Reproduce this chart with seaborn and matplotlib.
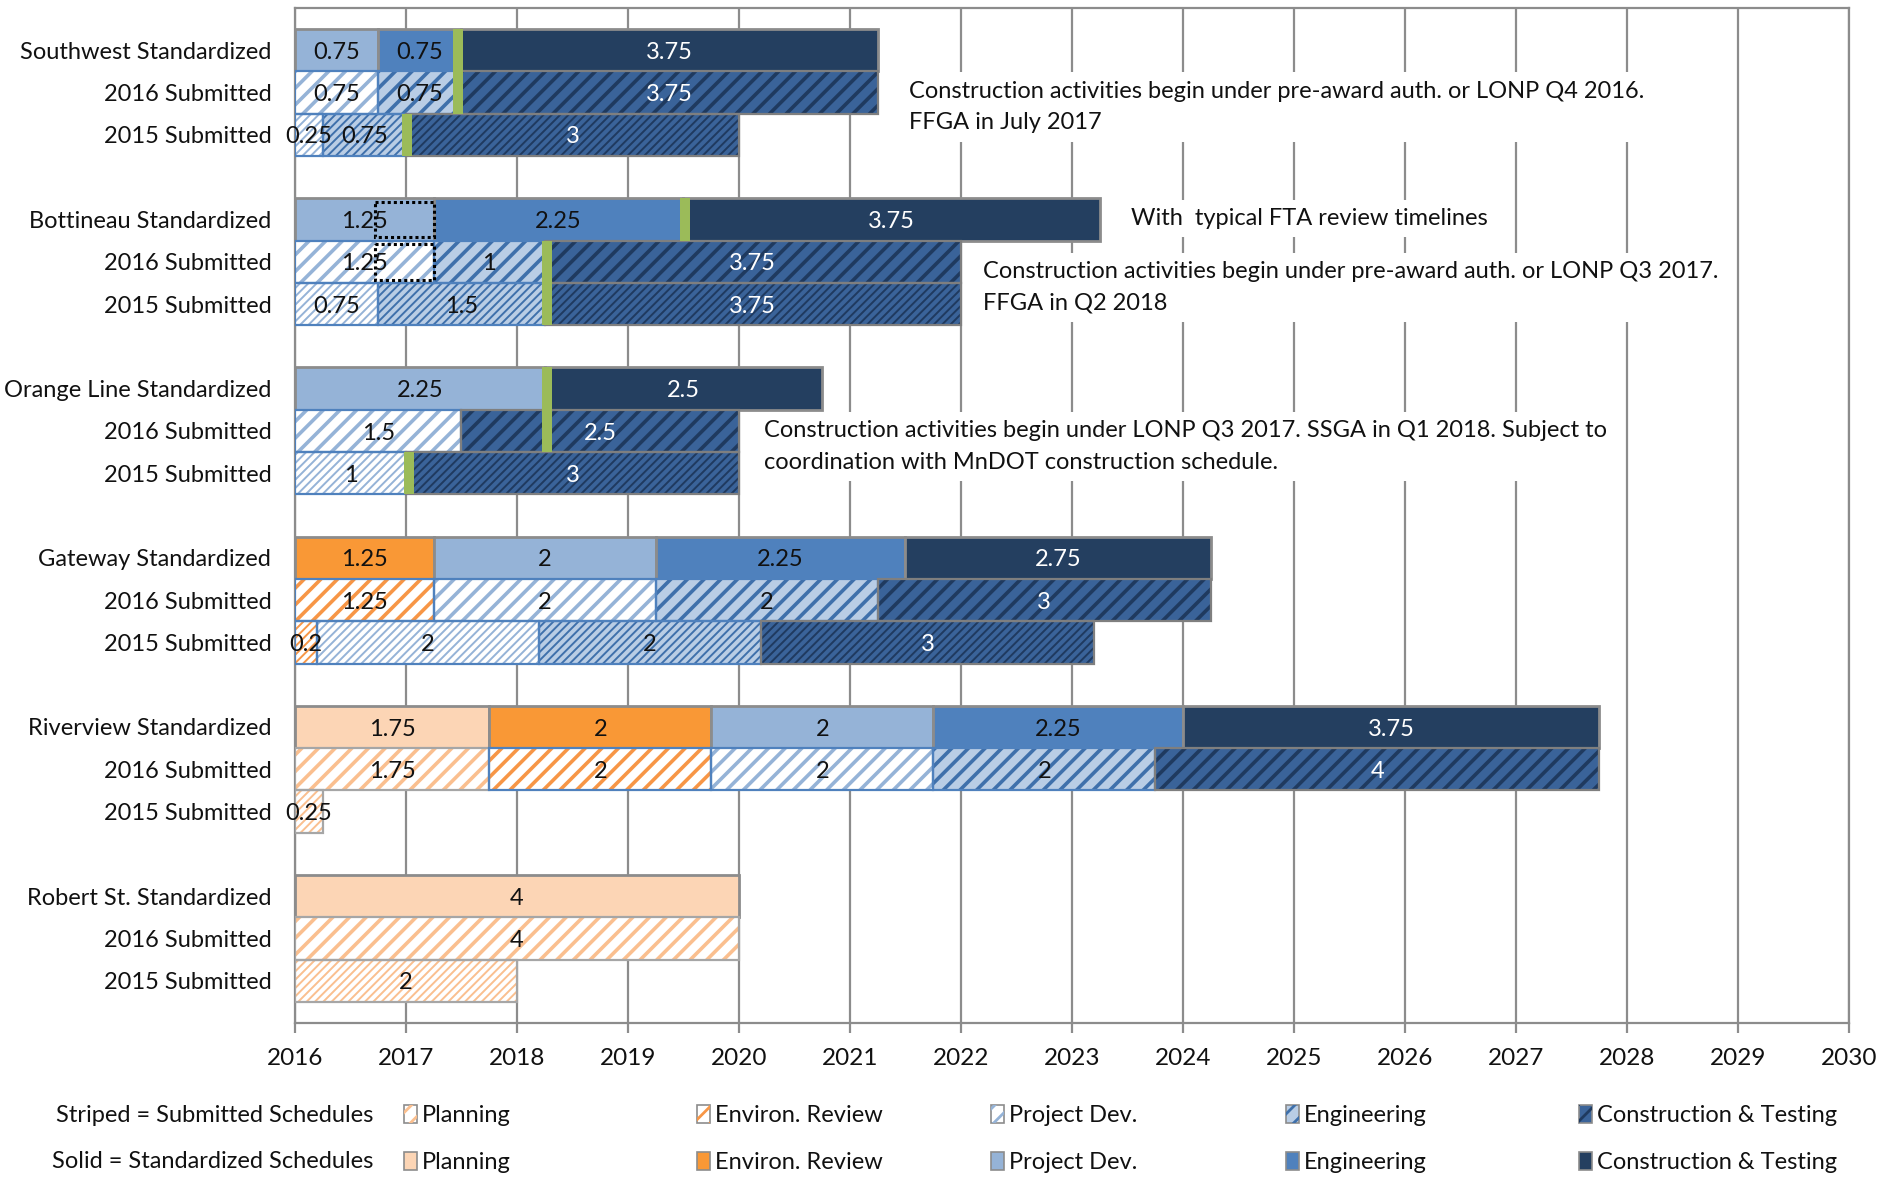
import matplotlib
matplotlib.use("Agg")
import matplotlib.pyplot as plt
import matplotlib.patches as mpatches
from matplotlib.legend_handler import HandlerTuple
import seaborn as sns

# ---------------- data ----------------
row_labels = ["Southwest Standardized", "2016 Submitted", "2015 Submitted",
              "Bottineau Standardized", "2016 Submitted", "2015 Submitted",
              "Orange Line Standardized", "2016 Submitted", "2015 Submitted",
              "Gateway Standardized", "2016 Submitted", "2015 Submitted",
              "Riverview Standardized", "2016 Submitted", "2015 Submitted",
              "Robert St. Standardized", "2016 Submitted", "2015 Submitted"]
row_kind = ["std", "s16", "s15"] * 6
row_pos = [1, 2, 3, 5, 6, 7, 9, 10, 11, 13, 14, 15, 17, 18, 19, 21, 22, 23]

phases = ["Planning", "Environ. Review", "Project Dev.", "Engineering", "Construction & Testing"]
planning     = [0, 0, 0,        0, 0, 0,        0, 0, 0,      0, 0, 0,          1.75, 1.75, 0.25, 4, 4, 2]
environ      = [0, 0, 0,        0, 0, 0,        0, 0, 0,      1.25, 1.25, 0.2,  2, 2, 0,          0, 0, 0]
project_dev  = [0.75, 0.75, 0.25, 1.25, 1.25, 0.75, 2.25, 1.5, 1, 2, 2, 2,       2, 2, 0,          0, 0, 0]
engineering  = [0.75, 0.75, 0.75, 2.25, 1, 1.5,  0, 0, 0,      2.25, 2, 2,       2.25, 2, 0,       0, 0, 0]
construction = [3.75, 3.75, 3,  3.75, 3.75, 3.75, 2.5, 2.5, 3, 2.75, 3, 3,       3.75, 4, 0,       0, 0, 0]
phase_values = [planning, environ, project_dev, engineering, construction]

start_year = 2016
years = list(range(2016, 2031))

# milestone markers (green): year, first row index, last row index
milestone_year = [2017.47, 2017.01, 2019.51, 2018.27, 2018.27, 2017.03]
milestone_first = [0, 2, 3, 4, 6, 8]
milestone_last = [1, 2, 3, 5, 7, 8]

# dotted overlay boxes (Bottineau)
dotted_rows = [3, 4]
dotted_start = 2016.72
dotted_len = 0.53

notes = [
    "Construction activities begin under pre-award auth. or LONP Q4 2016.\nFFGA in July 2017",
    "With  typical FTA review timelines",
    "Construction activities begin under pre-award auth. or LONP Q3 2017.\nFFGA in Q2 2018",
    "Construction activities begin under LONP Q3 2017. SSGA in Q1 2018. Subject to\ncoordination with MnDOT construction schedule.",
]
note_x = [2021.53, 2023.53, 2022.20, 2020.23]
note_y = [2.34, 4.98, 6.60, 10.37]

# ---------------- styles ----------------
solid_colors = ["#fcd5b5", "#f99836", "#95b3d7", "#4f81bd", "#243f60"]
hatch_bg = ["#ffffff", "#ffffff", "#ffffff", "#b9cde5", "#3a6399"]
hatch_fg = ["#fabf8f", "#f79646", "#95b3d7", "#3f70ab", "#1f3a5f"]
hatch_edge = ["#a6a6a6", "#4f81bd", "#4f81bd", "#4f81bd", "#7f7f7f"]
label_colors = ["#111111", "#111111", "#111111", "#111111", "#ffffff"]
GRAY = "#8c8c8c"
GREEN = "#9bbb59"
FS = 17

sns.set_theme(style="white")
plt.rcParams["font.family"] = ["Lato", "DejaVu Sans"]
plt.rcParams["text.color"] = "#111111"
plt.rcParams["hatch.linewidth"] = 2.0

fig = plt.figure(figsize=(18.81, 11.77), dpi=100)
ax = fig.add_axes([0.1568, 0.1308, 0.8262, 0.8624])


def set_hlw(container, lw):
    for p in container:
        if hasattr(p, "set_hatch_linewidth"):
            p.set_hatch_linewidth(lw)


for i, (y, kind) in enumerate(zip(row_pos, row_kind)):
    left = start_year
    for j, vals in enumerate(phase_values):
        v = vals[i]
        if v <= 0:
            continue
        if kind == "std":
            bc = ax.barh(y, v, left=left, height=1.0, color=solid_colors[j],
                         edgecolor=GRAY, linewidth=2.0, zorder=3)
        else:
            hatch = "//" if kind == "s16" else "////"
            hlw = 2.6 if kind == "s16" else 1.4
            bc = ax.barh(y, v, left=left, height=1.0, color=hatch_bg[j],
                         linewidth=0, zorder=3)
            with plt.rc_context({"hatch.linewidth": hlw}):
                hc = ax.barh(y, v, left=left, height=1.0, facecolor="none",
                             edgecolor=hatch_fg[j], linewidth=0, hatch=hatch, zorder=3.1)
            set_hlw(hc, hlw)
            ax.barh(y, v, left=left, height=1.0, fill=False,
                    edgecolor=hatch_edge[j], linewidth=1.6, zorder=3.2)
        anns = ax.bar_label(bc, labels=[f"{v:g}"], label_type="center",
                            color=label_colors[j], fontsize=FS, zorder=6)
        for a in anns:
            a.xyann = (0, -1.5)
        left += v

# green milestone markers
for yr, a, b in zip(milestone_year, milestone_first, milestone_last):
    top = row_pos[a] - 0.5
    bottom = row_pos[b] + 0.5
    ax.barh((top + bottom) / 2, 0.09, left=yr - 0.045, height=bottom - top,
            color=GREEN, linewidth=0, zorder=4)

# dotted overlay boxes
for r in dotted_rows:
    ax.barh(row_pos[r], dotted_len, left=dotted_start, height=0.84, fill=False,
            edgecolor="black", linewidth=2.2, linestyle=(0, (1, 1)), zorder=5)

# annotations
for txt, x, y in zip(notes, note_x, note_y):
    ax.text(x, y, txt, ha="left", va="center", fontsize=FS, linespacing=1.62,
            zorder=7, bbox=dict(facecolor="white", edgecolor="none", pad=6))

# axes styling
ax.set_xlim(2016, 2030)
ax.set_ylim(24, 0)
ax.set_xticks(years)
ax.set_xticklabels([str(y) for y in years])
ax.set_yticks(row_pos)
ax.set_yticklabels(row_labels)
ax.set_yticks(list(range(0, 25, 3)), minor=True)
ax.tick_params(axis="y", which="major", length=0, pad=17, labelsize=FS, labelcolor="#111111")
ax.tick_params(axis="y", which="minor", length=4, width=1.5, color=GRAY, direction="out")
ax.tick_params(axis="x", which="major", length=7, width=1.6, color=GRAY,
               direction="out", pad=11, labelsize=17.5, bottom=True, labelcolor="#111111")
ax.grid(axis="x", color=GRAY, linewidth=1.6, zorder=0)
ax.grid(axis="y", visible=False)
ax.set_axisbelow(True)
for s in ax.spines.values():
    s.set_visible(True)
    s.set_color(GRAY)
    s.set_linewidth(1.6)

# legends
fig.text(373 / 1881, 1 - 1115 / 1177, "Striped = Submitted Schedules", ha="right",
         va="center", fontsize=FS)
fig.text(373 / 1881, 1 - 1162 / 1177, "Solid = Standardized Schedules", ha="right",
         va="center", fontsize=FS)
legend_x = [404, 697, 991, 1286, 1579]
for j, name in enumerate(phases):
    h_bg = mpatches.Patch(facecolor=hatch_bg[j], edgecolor=GRAY, linewidth=1.2)
    h_fg = mpatches.Patch(facecolor="none", edgecolor=hatch_fg[j], linewidth=0, hatch="//")
    h_solid = mpatches.Patch(facecolor=solid_colors[j], edgecolor=GRAY, linewidth=1.2)
    leg = fig.legend(handles=[(h_bg, h_fg), h_solid], labels=[name, name],
                     handler_map={tuple: HandlerTuple(ndivide=1, pad=0)},
                     loc="center left", bbox_to_anchor=(legend_x[j] / 1881, 1 - 1139 / 1177),
                     frameon=False, fontsize=FS, handlelength=0.55, handleheight=0.8,
                     handletextpad=0.2, labelspacing=1.1, borderpad=0, borderaxespad=0)

fig.savefig("out.png", dpi=100)
